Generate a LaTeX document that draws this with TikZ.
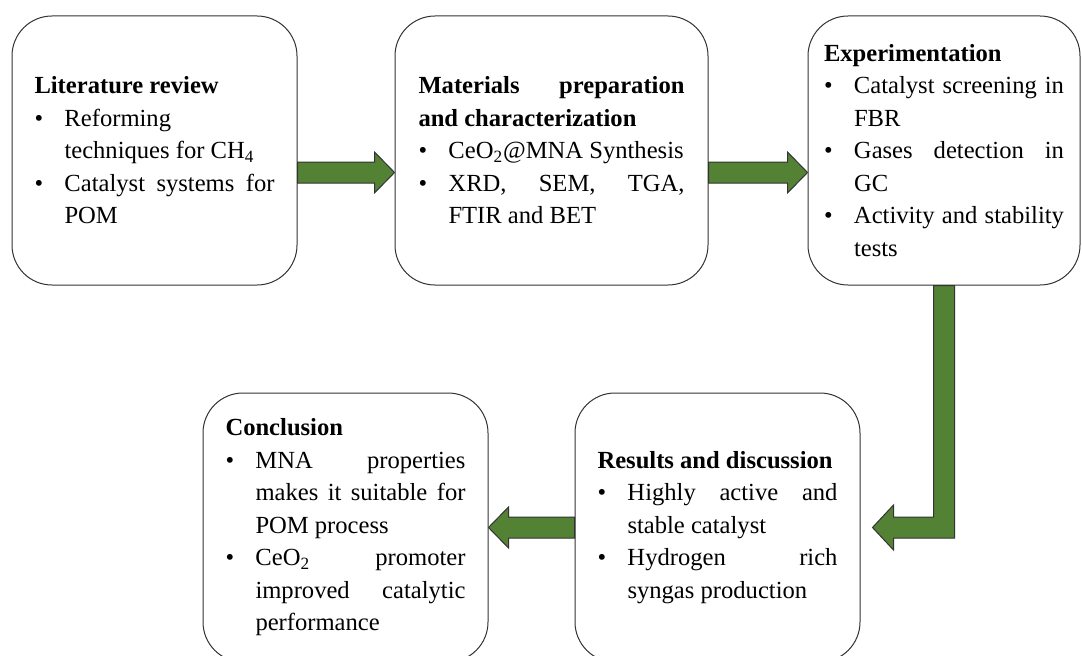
\documentclass[tikz,border=0pt]{standalone}
\usepackage{fontspec}
\setmainfont{Liberation Serif}
\usetikzlibrary{calc}
\definecolor{arrowgreen}{RGB}{84,130,53}
\newcommand{\bitem}[1]{\par\noindent\hangindent=15pt\hangafter=1\makebox[15pt][l]{\textbullet}#1\par}

\begin{document}
\begin{tikzpicture}[x=0.5pt,y=0.5pt,
stagebox/.style={draw=black!80,line width=0.5pt,rounded corners=20pt,inner sep=0pt,
minimum width=142.5pt,minimum height=134.5pt,text width=120pt,align=justify,
font={\fontsize{12.3}{16.25}\selectfont\tolerance=10000 \hyphenpenalty=10000 }},
blockarrow/.style={fill=arrowgreen,draw=black!80,line width=0.5pt,line join=miter,
to path={($(\tikztostart)!5.25pt!90:(\tikztotarget)$)
-- ($(\tikztotarget)!10pt!(\tikztostart)!5.25pt!90:(\tikztotarget)$)
-- ($(\tikztotarget)!10pt!(\tikztostart)!10.25pt!90:(\tikztotarget)$)
-- (\tikztotarget)
-- ($(\tikztotarget)!10pt!(\tikztostart)!10.25pt!-90:(\tikztotarget)$)
-- ($(\tikztotarget)!10pt!(\tikztostart)!5.25pt!-90:(\tikztotarget)$)
-- ($(\tikztostart)!5.25pt!-90:(\tikztotarget)$) -- cycle}}]
\path[use as bounding box,clip] (0,0) rectangle (1082,655);

\node[stagebox] (lit) at (154.5,504.5) {\textbf{Literature review}
\bitem{Reforming\newline techniques for CH\textsubscript{4}}
\bitem{Catalyst systems for\linebreak POM}};
\node[stagebox,minimum width=156.5pt,text width=133pt] (mat) at (551.5,504.5) {\textbf{Materials preparation\linebreak and characterization}
\bitem{CeO\textsubscript{2}@MNA~Synthesis}
\bitem{XRD, SEM, TGA,\linebreak FTIR and BET}};
\node[stagebox,minimum width=136pt] (exp) at (944,504.5) {\textbf{Experimentation}
\bitem{Catalyst screening in\linebreak FBR}
\bitem{Gases detection in\linebreak GC}
\bitem{Activity and stability\linebreak tests}};
\node[stagebox] (res) at (717.5,127.5) {\textbf{Results and discussion}
\bitem{Highly active and\linebreak stable catalyst}
\bitem{Hydrogen rich\linebreak syngas production}};
\node[stagebox] (con) at (345.5,127.5) {\textbf{Conclusion}
\bitem{MNA properties\linebreak makes it suitable for\linebreak POM process}
\bitem{CeO\textsubscript{2} promoter\linebreak improved catalytic\linebreak performance}};

\draw[blockarrow] ([yshift=-11pt]lit.east) to ([yshift=-11pt]mat.west);
\draw[blockarrow] ([yshift=-11pt]mat.east) to ([yshift=-11pt]exp.west);
\draw[blockarrow] ([xshift=-5.25pt]exp.south) |- ([xshift=16.5pt,yshift=5.25pt]res.east)
-- ([xshift=16.5pt,yshift=11.25pt]res.east) -- ([xshift=6pt]res.east)
-- ([xshift=16.5pt,yshift=-11.25pt]res.east) -- ([xshift=16.5pt,yshift=-5.25pt]res.east)
-| ([xshift=5.25pt]exp.south) -- cycle;
\draw[blockarrow] (res.west) to (con.east);

\end{tikzpicture}
\end{document}
